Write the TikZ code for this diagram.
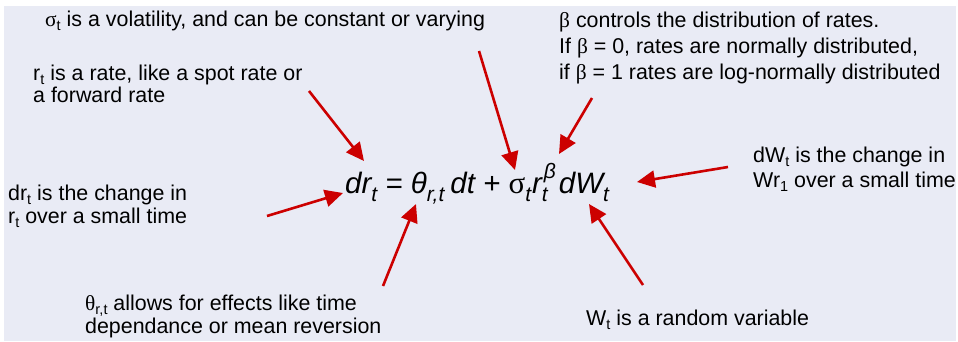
\documentclass[tikz,border=0pt]{standalone}
\usepackage{fontspec}
\setmainfont{Liberation Sans}
\newfontfamily\grk{Liberation Serif}
\usetikzlibrary{arrows.meta}
\definecolor{bgc}{RGB}{233,235,245}
\definecolor{arrc}{RGB}{204,0,0}
\newcommand{\lsb}[1]{\raisebox{-4pt}{\fontsize{14.5}{14.5}\selectfont #1}}
\newcommand{\esb}[1]{\raisebox{-8pt}{\fontsize{21}{21}\selectfont\itshape #1}}
\newcommand{\esp}[1]{\raisebox{15pt}{\fontsize{21}{21}\selectfont\itshape #1}}
\begin{document}
\begin{tikzpicture}[x=1pt,y=-1pt,
  lbl/.style={anchor=base west,inner sep=0pt,font=\fontsize{21.4}{24}\selectfont},
  eqn/.style={anchor=base west,inner sep=0pt,font=\fontsize{29.5}{30}\selectfont\itshape},
  redarrow/.style={draw=arrc,line width=2.6pt,-{Triangle[length=18pt,width=17pt]}}]
\useasboundingbox (0,0) rectangle (958,341);
\fill[bgc] (4,6) rectangle (956,341);

% equation
\node[eqn] (eq) at (345,193) {dr\esb{t} = θ\esb{r,t}\kern6pt dt + {\upshape\grk\fontsize{31}{31}\selectfont σ}\esb{t}\kern1pt r\rlap{\esb{t}}\kern2pt\esp{β}\kern3pt dW\esb{t}};

% labels
\node[lbl] (sig) at (45,26) {{\grk σ}\lsb{t} is a volatility, and can be constant or varying};
\node[lbl] (r1) at (33,80) {r\lsb{t} is a rate, like a spot rate or};
\node[lbl] (r2) at (33,102) {a forward rate};
\node[lbl] (b1) at (559,27) {{\grk β} controls the distribution of rates.};
\node[lbl] (b2) at (559,53) {If {\grk β} = 0, rates are normally distributed,};
\node[lbl] (b3) at (559,79) {if {\grk β} = 1 rates are log-normally distributed};
\node[lbl] (d1) at (8,200) {dr\lsb{t} is the change in};
\node[lbl] (d2) at (8,223) {r\lsb{t} over a small time};
\node[lbl] (th1) at (85,310) {{\grk θ}\lsb{r,t} allows for effects like time};
\node[lbl] (th2) at (85,333) {dependance or mean reversion};
\node[lbl] (w1) at (753,162) {dW\lsb{t} is the change in};
\node[lbl] (w2) at (753,187) {Wr\lsb{1} over a small time};
\node[lbl] (wt) at (586,325) {W\lsb{t} is a random variable};

% arrow end points
\coordinate (rS) at (309,91);   \coordinate (rE) at (364,161);
\coordinate (sS) at (479,51);   \coordinate (sE) at (515,170);
\coordinate (bS) at (592,98);   \coordinate (bE) at (559,154);
\coordinate (wS) at (728,167);  \coordinate (wE) at (637,182);
\coordinate (tS) at (643,285);  \coordinate (tE) at (589,204);
\coordinate (dS) at (267,216);  \coordinate (dE) at (343,193);
\coordinate (hS) at (383,286);  \coordinate (hE) at (416,204);

\draw[redarrow] (rS) -- (rE);
\draw[redarrow] (sS) -- (sE);
\draw[redarrow] (bS) -- (bE);
\draw[redarrow] (wS) -- (wE);
\draw[redarrow] (tS) -- (tE);
\draw[redarrow] (dS) -- (dE);
\draw[redarrow] (hS) -- (hE);
\end{tikzpicture}
\end{document}
